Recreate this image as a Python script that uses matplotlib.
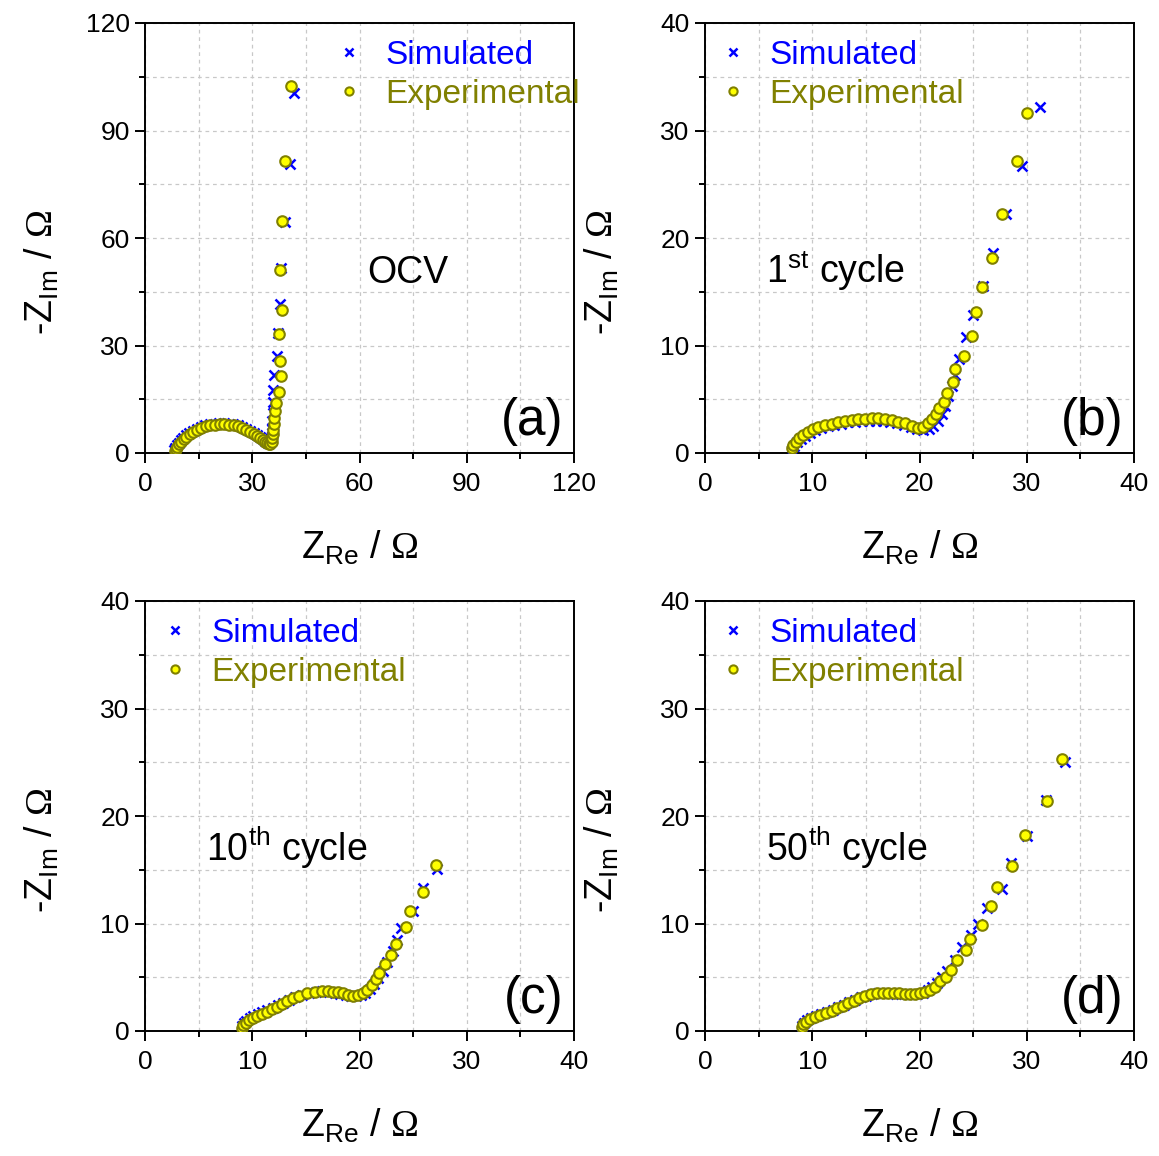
import matplotlib
matplotlib.use('Agg')
import matplotlib.pyplot as plt
from matplotlib.ticker import MultipleLocator

plt.rcParams['font.family'] = ['Liberation Sans', 'DejaVu Sans']
plt.rcParams['mathtext.fontset'] = 'custom'
plt.rcParams['mathtext.rm'] = 'Liberation Sans'
plt.rcParams['mathtext.sf'] = 'Liberation Serif'
plt.rcParams['mathtext.default'] = 'regular'

# ---------------- data ----------------
# (a) OCV
exp_a_re = [8.3, 8.6, 9.0, 9.5, 10.1, 10.8, 11.6, 12.5, 13.5, 14.6, 15.8, 17.0, 18.3, 19.6, 20.9, 22.2,
            23.5, 24.8, 26.0, 27.2, 28.3, 29.4, 30.4, 31.3, 32.1, 32.9, 33.6, 34.2, 34.7, 35.1, 35.4, 35.6,
            35.8, 35.9, 36.0, 36.2, 36.4, 36.6, 37.5, 38.0, 37.8, 37.6, 38.4, 37.8, 38.4, 39.3, 40.7]
exp_a_im = [0.5, 1.1, 1.8, 2.5, 3.2, 3.9, 4.6, 5.3, 5.9, 6.5, 7.0, 7.4, 7.7, 7.9, 8.0, 8.0,
            7.9, 7.7, 7.4, 7.0, 6.5, 6.0, 5.4, 4.8, 4.2, 3.6, 3.1, 2.7, 2.5, 2.6, 3.2, 4.1,
            5.2, 6.5, 8.0, 9.7, 11.6, 14.0, 17.1, 21.5, 25.7, 33.2, 39.9, 51.1, 64.8, 81.6, 102.4]
sim_a_re = [8.2, 8.5, 8.9, 9.4, 10.0, 10.7, 11.5, 12.4, 13.4, 14.5, 15.7, 16.9, 18.2, 19.5, 20.8, 22.1,
            23.4, 24.7, 25.9, 27.1, 28.3, 29.4, 30.4, 31.3, 32.2, 33.0, 33.7, 34.3, 34.8, 35.1, 35.3, 35.4,
            35.5, 35.6, 35.7, 35.8, 35.8, 36.2, 36.8, 37.3, 37.9, 38.1, 39.3, 40.5, 41.7]
sim_a_im = [0.7, 1.4, 2.1, 2.8, 3.5, 4.2, 4.9, 5.6, 6.2, 6.8, 7.3, 7.7, 8.0, 8.2, 8.3, 8.3,
            8.2, 8.0, 7.7, 7.3, 6.8, 6.2, 5.6, 5.0, 4.4, 3.8, 3.3, 2.9, 2.7, 3.2, 4.2, 5.5,
            7.1, 9.0, 11.3, 14.2, 17.6, 21.8, 27.1, 33.6, 41.5, 51.5, 64.6, 80.6, 100.4]

# (b) 1st cycle
exp_b_re = [8.08, 8.23, 8.49, 8.8, 9.17, 9.63, 10.1, 10.56, 11.19, 11.8, 12.43, 13.05, 13.68, 14.3, 14.9,
            15.54, 16.16, 16.8, 17.4, 18.0, 18.65, 19.27, 19.9, 20.36, 20.82, 21.2, 21.54, 21.85, 22.28,
            22.53, 23.15, 23.34, 24.15, 24.9, 25.27, 25.86, 26.73, 27.66, 29.06, 30.0]
exp_b_im = [0.43, 0.74, 1.05, 1.36, 1.67, 1.95, 2.2, 2.39, 2.57, 2.73, 2.85, 2.98, 3.07, 3.13, 3.19,
            3.22, 3.22, 3.16, 3.07, 2.9, 2.76, 2.5, 2.3, 2.45, 2.76, 3.13, 3.63, 4.16, 4.77,
            5.61, 6.63, 7.84, 9.0, 10.9, 13.1, 15.4, 18.1, 22.2, 27.2, 31.6]
sim_b_re = [8.1, 8.3, 8.6, 8.95, 9.35, 9.8, 10.3, 10.85, 11.45, 12.05, 12.7, 13.35, 14.0, 14.65, 15.3,
            15.95, 16.6, 17.25, 17.9, 18.55, 19.2, 19.8, 20.35, 20.85, 21.3, 21.7, 22.07, 22.4, 22.7,
            23.0, 23.3, 23.7, 24.3, 25.0, 25.95, 26.88, 28.07, 29.53, 31.24]
sim_b_im = [0.3, 0.65, 0.98, 1.3, 1.6, 1.87, 2.1, 2.3, 2.47, 2.62, 2.74, 2.84, 2.92, 2.97, 3.0,
            3.0, 2.97, 2.9, 2.78, 2.62, 2.44, 2.27, 2.18, 2.25, 2.5, 2.95, 3.6, 4.4, 5.3,
            6.2, 7.3, 8.7, 10.8, 12.8, 15.5, 18.6, 22.2, 26.7, 32.2]

# (c) 10th cycle
exp_c_re = [9.01, 9.17, 9.42, 9.72, 10.1, 10.47, 10.94, 11.4, 11.87, 12.34, 12.8, 13.27, 13.83, 14.4,
            15.08, 15.85, 16.48, 17.03, 17.56, 18.03, 18.49, 18.95, 19.42, 19.9, 20.35, 20.73, 21.14,
            21.5, 21.85, 22.38, 22.94, 23.4, 24.3, 24.7, 25.9, 27.13]
exp_c_im = [0.31, 0.53, 0.77, 1.02, 1.24, 1.42, 1.61, 1.8, 2.02, 2.26, 2.5, 2.79, 3.04, 3.29,
            3.5, 3.66, 3.72, 3.72, 3.66, 3.6, 3.5, 3.35, 3.26, 3.32, 3.5, 3.81, 4.28,
            4.81, 5.43, 6.2, 7.07, 8.09, 9.64, 11.16, 12.9, 15.44]
sim_c_re = [9.0, 9.2, 9.45, 9.75, 10.1, 10.5, 10.95, 11.4, 11.9, 12.4, 12.9, 13.45, 14.0, 14.6,
            15.25, 15.9, 16.55, 17.15, 17.7, 18.2, 18.7, 19.2, 19.7, 20.15, 20.55, 20.95, 21.35,
            21.75, 22.15, 22.6, 23.1, 23.5, 23.9, 25.0, 25.9, 27.2]
sim_c_im = [0.45, 0.7, 0.95, 1.18, 1.38, 1.57, 1.76, 1.96, 2.17, 2.4, 2.65, 2.9, 3.14, 3.36,
            3.54, 3.65, 3.68, 3.64, 3.56, 3.46, 3.36, 3.28, 3.26, 3.35, 3.57, 3.9, 4.35,
            4.9, 5.55, 6.4, 7.4, 8.5, 9.6, 11.2, 13.3, 15.1]

# (d) 50th cycle
exp_d_re = [9.01, 9.17, 9.42, 9.79, 10.26, 10.72, 11.28, 11.81, 12.34, 12.84, 13.36, 13.89, 14.39, 14.92,
            15.48, 16.0, 16.57, 17.09, 17.62, 18.12, 18.65, 19.11, 19.58, 20.05, 20.51, 20.98, 21.44,
            21.9, 22.44, 22.9, 23.47, 24.3, 24.68, 25.86, 26.64, 27.26, 28.63, 29.84, 31.92, 33.32]
exp_d_im = [0.4, 0.62, 0.87, 1.12, 1.33, 1.52, 1.71, 1.89, 2.11, 2.36, 2.57, 2.79, 3.04, 3.26,
            3.41, 3.5, 3.56, 3.56, 3.53, 3.5, 3.47, 3.44, 3.44, 3.5, 3.6, 3.81, 4.12,
            4.62, 5.05, 5.67, 6.57, 7.53, 8.56, 9.83, 11.66, 13.42, 15.38, 18.26, 21.4, 25.27]
sim_d_re = [9.0, 9.2, 9.5, 9.9, 10.35, 10.85, 11.35, 11.9, 12.4, 12.95, 13.45, 13.95, 14.5, 15.05,
            15.6, 16.15, 16.7, 17.25, 17.8, 18.3, 18.8, 19.3, 19.8, 20.3, 20.75, 21.2, 21.65,
            22.1, 22.6, 23.3, 24.0, 24.8, 25.42, 26.26, 27.66, 28.5, 30.05, 31.8, 33.57]
sim_d_im = [0.5, 0.75, 1.0, 1.22, 1.42, 1.6, 1.8, 2.0, 2.22, 2.45, 2.68, 2.9, 3.12, 3.3,
            3.43, 3.5, 3.52, 3.5, 3.46, 3.42, 3.4, 3.4, 3.45, 3.57, 3.78, 4.1, 4.5,
            5.0, 5.6, 6.6, 7.84, 8.9, 9.98, 11.4, 13.2, 15.66, 18.1, 21.5, 25.05]

panel_tags = ['(a)', '(b)', '(c)', '(d)']
panel_notes = ['OCV', r'1$^{st}$ cycle', r'10$^{th}$ cycle', r'50$^{th}$ cycle']
axis_max = [120, 40, 40, 40]
major_step = [30, 10, 10, 10]
legend_labels = ['Simulated', 'Experimental']

# ---------------- figure ----------------
W, H = 1159, 1156
fig = plt.figure(figsize=(W / 100, H / 100), dpi=100)

boxes = [(145, 23), (705, 23), (145, 601), (705, 601)]  # left, top in px
bw, bh = 429, 430

series = [
    (exp_a_re, exp_a_im, sim_a_re, sim_a_im),
    (exp_b_re, exp_b_im, sim_b_re, sim_b_im),
    (exp_c_re, exp_c_im, sim_c_re, sim_c_im),
    (exp_d_re, exp_d_im, sim_d_re, sim_d_im),
]
leg_x = [0.437, 0.027, 0.031, 0.027]

BLUE = '#0000ff'
OLIVE = '#808000'
YELLOW = '#ffff00'

for i, ((ex, ey, sx, sy), (lx, ty)) in enumerate(zip(series, boxes)):
    ax = fig.add_axes([lx / W, 1 - (ty + bh) / H, bw / W, bh / H])
    ax.plot(sx, sy, linestyle='none', marker='x', color=BLUE, markersize=7,
            markeredgewidth=1.8, label=legend_labels[0], zorder=3)
    ax.plot(ex, ey, linestyle='none', marker='o', markerfacecolor=YELLOW,
            markeredgecolor=OLIVE, markersize=7.6, markeredgewidth=1.5,
            label=legend_labels[1], zorder=4)
    m = axis_max[i]
    ax.set_xlim(0, m)
    ax.set_ylim(0, m)
    ax.xaxis.set_major_locator(MultipleLocator(major_step[i]))
    ax.yaxis.set_major_locator(MultipleLocator(major_step[i]))
    ax.xaxis.set_minor_locator(MultipleLocator(major_step[i] / 2))
    ax.yaxis.set_minor_locator(MultipleLocator(major_step[i] / 2))
    ax.grid(True, which='both', linestyle=(0, (3, 3)), color='#c8c8c8', linewidth=0.9, zorder=0)
    ax.set_axisbelow(True)
    ax.tick_params(which='major', direction='out', length=7, width=1.4, labelsize=19, pad=4,
                   top=False, right=False)
    ax.tick_params(axis='x', which='major', pad=6.5)
    ax.tick_params(which='minor', direction='out', length=4, width=1.4, top=False, right=False)
    for s in ax.spines.values():
        s.set_linewidth(1.4)
    ax.set_xlabel(r'Z$_{Re}$ / $\mathsf{\Omega}$', fontsize=27)
    ax.set_ylabel(r'-Z$_{Im}$ / $\mathsf{\Omega}$', fontsize=27)
    ax.xaxis.set_label_coords(0.5, -0.175)
    ax.yaxis.set_label_coords(-0.195, 0.42)

    leg = ax.legend(loc='upper left', bbox_to_anchor=(leg_x[i], 0.961), frameon=False,
                    fontsize=24, handlelength=1.0, handletextpad=0.58, borderpad=0,
                    borderaxespad=0, labelspacing=0.25, markerscale=0.78)
    for txt, col in zip(leg.get_texts(), [BLUE, OLIVE]):
        txt.set_color(col)

    ax.text(0.517 if i == 0 else 0.142, 0.395, panel_notes[i], transform=ax.transAxes,
            fontsize=27, ha='left', va='baseline')
    ax.text(0.975, 0.042, panel_tags[i], transform=ax.transAxes, fontsize=37,
            ha='right', va='baseline')

fig.savefig('out.png', dpi=100)
